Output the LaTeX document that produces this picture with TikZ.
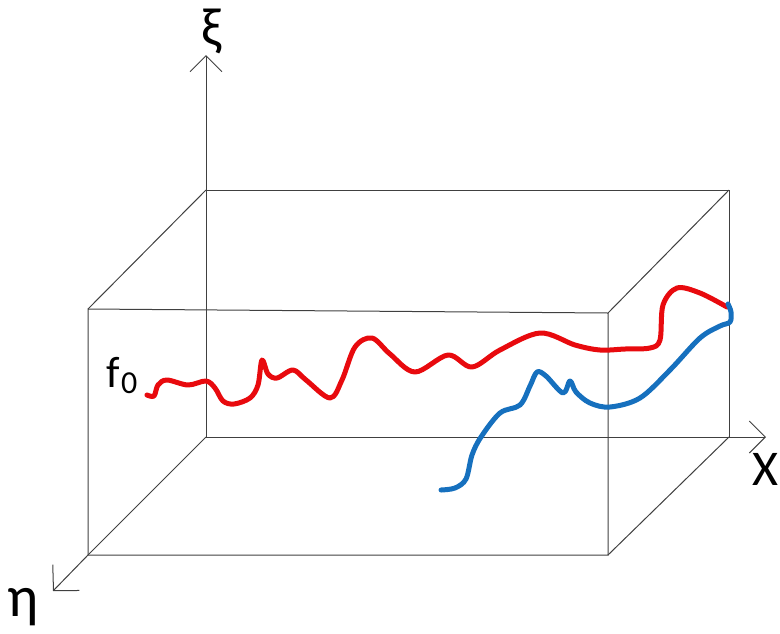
\documentclass[tikz,border=0pt]{standalone}
\usepackage{fontspec}
\setmainfont{Carlito}
\usetikzlibrary{arrows.meta}
\begin{document}
\begin{tikzpicture}[x=1pt,y=-1pt,
  edge/.style={draw=black!75, line width=1pt},
  axis/.style={draw=black!75, line width=1pt},
  redc/.style={draw=curvered, line width=5pt, line cap=round, line join=round},
  bluec/.style={draw=curveblue, line width=5pt, line cap=round, line join=round},
  lab/.style={inner sep=0pt, font=\fontsize{44}{48}\selectfont}]
\definecolor{curvered}{RGB}{232,10,14}
\definecolor{curveblue}{RGB}{22,112,190}
\useasboundingbox (0,0) rectangle (780,633);
% corners
\coordinate (FTL) at (88,309);
\coordinate (FTR) at (608,313);
\coordinate (FBL) at (88,555);
\coordinate (FBR) at (608,555);
\coordinate (BTL) at (206,190);
\coordinate (BTR) at (729,190);
\coordinate (BBL) at (206,437);
\coordinate (BBR) at (729,437);
% axes tips
\coordinate (XiTip) at (206,55);
\coordinate (XTip) at (766,437);
\coordinate (EtaTip) at (53,591);
% box
\draw[edge] (FTL) -- (FTR) -- (FBR) -- (FBL) -- cycle;
\draw[edge] (BTL) -- (BTR) -- (BBR) -- (BBL) -- cycle;
\draw[edge] (FTL) -- (BTL);
\draw[edge] (FTR) -- (BTR);
\draw[edge] (FBR) -- (BBR);
\draw[edge] (FBL) -- (BBL);
% axes
\draw[axis, -{Straight Barb[length=16pt,width=32pt,line width=1pt]}] (BTL) -- (XiTip);
\draw[axis, -{Straight Barb[length=16pt,width=32pt,line width=1pt]}] (BBR) -- (XTip);
\draw[axis, -{Straight Barb[length=18pt,width=37pt,line width=1pt]}] (FBL) -- (EtaTip);
% labels
\node[lab, font=\fontsize{54}{58}\selectfont] (xi) at (212,31) {ξ};
\node[lab, font=\fontsize{50}{54}\selectfont] (X) at (765,469) {X};
\node[lab, font=\fontsize{58}{62}\selectfont] (eta) at (23,607) {η};
\node[lab, anchor=base west, font=\fontsize{44}{48}\selectfont] (f) at (106,387) {f};
\node[lab, anchor=base west, font=\fontsize{32}{36}\selectfont] (zero) at (121,393) {0};
% red curve
\draw[redc] plot[smooth, tension=0.55] coordinates {
 (147,395) (154,396) (158,385) (167,380) (188,385) (206,381) (215,388)
 (223,401) (234,404) (250,398) (258,385) (262,360) (268,374) (277,378)
 (293,370) (306,380) (330,398) (342,380) (355,347) (372,338) (390,354)
 (415,372) (448,355) (472,367) (500,350) (540,333) (575,345) (600,350)
 (625,349) (650,348) (660,340) (663,305) (677,288) (700,293) (727,307)};
% blue curve
\draw[bluec] plot[smooth, tension=0.55] coordinates {
 (441,490) (455,488) (466,479) (472,455) (481,437) (500,413) (520,405)
 (530,386) (537,372) (546,376) (563,393) (570,381) (576,392) (590,403)
 (610,407) (640,398) (670,370) (700,338) (720,326) (730,322) (731,312) (728,304)};
\end{tikzpicture}
\end{document}
